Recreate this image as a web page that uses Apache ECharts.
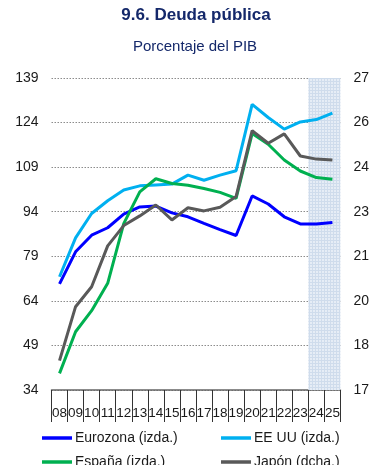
<!DOCTYPE html>
<html>
<head>
<meta charset="utf-8">
<script src="https://cdn.jsdelivr.net/npm/echarts@6/dist/echarts.min.js"></script>
<style>
  html, body { margin: 0; padding: 0; background: #ffffff; }
  #chart { width: 372px; height: 465px; }
</style>
</head>
<body>
<div id="chart"></div>
<script>
// Years on the category axis
const years = ['08', '09', '10', '11', '12', '13', '14', '15', '16', '17', '18', '19', '20', '21', '22', '23', '24', '25'];
// First projected year (shaded band runs from here to the end)
const forecastFrom = '24';

// Public debt, % of GDP (left axis)
const eurozona = [69.7, 80.5, 86.1, 88.6, 93.2, 95.6, 95.9, 93.6, 92.3, 90.1, 88.0, 86.0, 99.3, 96.6, 92.3, 89.9, 89.9, 90.4];
const eeuu     = [72.1, 85.2, 93.4, 97.7, 101.3, 102.7, 103.0, 103.3, 106.3, 104.6, 106.3, 107.8, 130.1, 125.7, 121.8, 124.2, 125.0, 127.2];
const espana   = [39.6, 53.6, 60.7, 69.9, 90.0, 100.7, 105.1, 103.5, 102.9, 101.8, 100.5, 98.5, 120.3, 116.7, 111.4, 107.7, 105.5, 104.9];
// Japan, % of GDP (right axis)
const japon    = [179.4, 196.7, 203.1, 216.2, 222.7, 225.8, 229.3, 224.5, 228.4, 227.4, 228.6, 232.0, 253.1, 249.1, 252.1, 245.0, 244.0, 243.7];

// Axis ranges
const leftMin = 34, leftMax = 139, leftStep = 15;
const rightMin = 170, rightMax = 270;

const names = ['Eurozona (izda.)', 'EE UU (izda.)', 'España (izda.)', 'Japón (dcha.)'];
const colors = ['#0000ff', '#00b0f0', '#00b050', '#595959'];

const FONT = 'Arial, "Liberation Sans", Helvetica, sans-serif';

// Dotted fill for the projection band
function bandPattern() {
  const c = document.createElement('canvas');
  c.width = 3; c.height = 3;
  const g = c.getContext('2d');
  g.fillStyle = '#e6edf6';
  g.fillRect(0, 0, 3, 3);
  g.fillStyle = '#cfdcec';
  g.fillRect(0, 0, 1, 3);
  g.fillRect(0, 0, 3, 1);
  return c;
}

const chart = echarts.init(document.getElementById('chart'), null, { renderer: 'canvas' });

const lineSeries = [eurozona, eeuu, espana, japon].map((d, i) => ({
  name: names[i],
  type: 'line',
  data: d,
  yAxisIndex: i === 3 ? 1 : 0,
  xAxisIndex: 0,
  symbol: 'none',
  smooth: false,
  lineStyle: { color: colors[i], width: 3 },
  itemStyle: { color: colors[i] },
  z: 3
}));

const legendPos = [
  { left: 42, top: 431 },
  { left: 221, top: 431 },
  { left: 42, top: 455 },
  { left: 221, top: 455 }
];

const option = {
  animation: false,
  backgroundColor: '#ffffff',
  title: [
    {
      text: '9.6. Deuda pública',
      left: 196, top: 7, textAlign: 'center', padding: 0,
      textStyle: { fontFamily: FONT, fontSize: 17, fontWeight: 'bold', color: '#14286a' }
    },
    {
      text: 'Porcentaje del PIB',
      left: 195, top: 39, textAlign: 'center', padding: 0,
      textStyle: { fontFamily: FONT, fontSize: 15, fontWeight: 'normal', color: '#14286a' }
    }
  ],
  legend: legendPos.map((p, i) => ({
    data: [names[i]],
    left: p.left, top: p.top,
    padding: 0,
    icon: 'rect',
    itemWidth: 30, itemHeight: 3.5,
    selectedMode: false,
    textStyle: { fontFamily: FONT, fontSize: 14, color: '#1a1a1a', padding: [0, 0, 0, -2] }
  })),
  grid: { left: 51.5, right: 30, top: 78, bottom: 75, containLabel: false },
  xAxis: [
    {
      type: 'category',
      data: years,
      boundaryGap: true,
      axisLine: { show: true, lineStyle: { color: '#666666', width: 1.5 } },
      axisTick: { show: true, length: 32, lineStyle: { color: '#333333', width: 1 } },
      axisLabel: { interval: 0, margin: 16, fontFamily: FONT, fontSize: 13.5, color: '#1a1a1a' },
      splitLine: { show: false }
    },
    {
      // plain numeric twin of the category axis, used to place the projection band
      type: 'value',
      min: 0, max: years.length,
      show: false,
      gridIndex: 0
    }
  ],
  yAxis: [
    {
      type: 'value',
      min: leftMin, max: leftMax, interval: leftStep,
      position: 'left',
      axisLine: { show: false },
      axisTick: { show: false },
      axisLabel: { margin: 13, fontFamily: FONT, fontSize: 14, color: '#1a1a1a' },
      splitLine: {
        show: true,
        lineStyle: { color: '#8c8c8c', type: [1.5, 1.5], width: 1 }
      }
    },
    {
      type: 'value',
      min: rightMin, max: rightMax, interval: (rightMax - rightMin) / 7,
      position: 'right',
      axisLine: { show: false },
      axisTick: { show: false },
      axisLabel: {
        margin: 13, fontFamily: FONT, fontSize: 14, color: '#1a1a1a',
        formatter: v => String(Math.round(v / 10))
      },
      splitLine: { show: false }
    }
  ],
  series: [
    {
      name: 'proyeccion',
      type: 'line',
      xAxisIndex: 1,
      yAxisIndex: 0,
      data: [],
      symbol: 'none',
      silent: true,
      z: 1,
      markArea: {
        silent: true,
        itemStyle: { color: { image: bandPattern(), repeat: 'repeat' } },
        data: [[{ xAxis: years.indexOf(forecastFrom) }, { xAxis: years.length }]]
      }
    }
  ].concat(lineSeries)
};

chart.setOption(option);
</script>
</body>
</html>
